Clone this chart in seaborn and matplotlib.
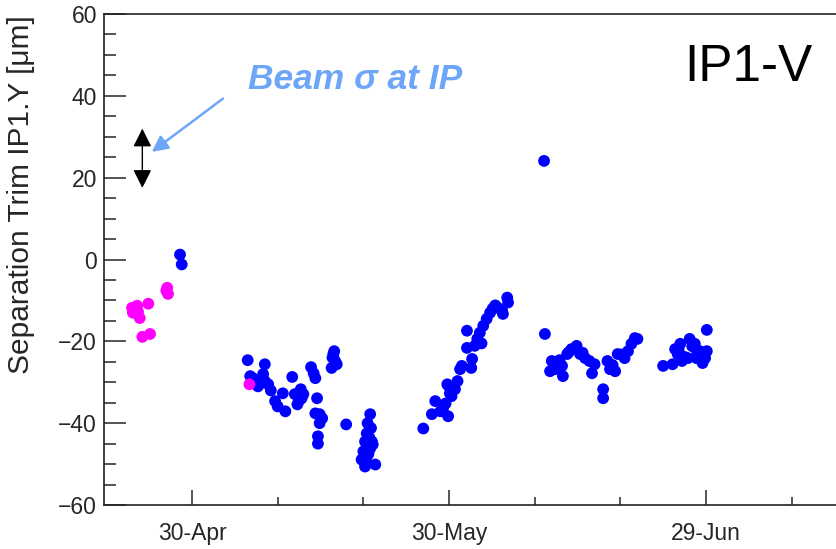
import pandas as pd
import matplotlib
matplotlib.use("Agg")
import matplotlib.pyplot as plt
import matplotlib.dates as mdates
from matplotlib.ticker import MultipleLocator
import seaborn as sns

# Days counted from 30-Apr, separation trim in um
base_date = pd.Timestamp("2012-04-30")

magenta_days = [-7.0, -6.4, -6.9, -6.3, -6.1, -5.1, -5.8, -4.9, -2.9, -2.8, 6.7,
                -6.6, -6.8, -3.0]
magenta_sep = [-11.8, -11.3, -13.0, -12.8, -14.3, -10.8, -18.9, -18.2, -6.9, -8.4, -30.5,
               -12.2, -12.5, -7.6]

blue_days = [-1.4, -1.2, 6.5, 8.5, 6.8, 7.1, 7.7, 8.3, 8.5, 8.9, 8.1, 9.7, 10.0, 10.9, 10.6,
             11.7, 12.0, 12.3, 12.7, 13.0, 12.8, 13.9, 14.2, 14.4, 14.6, 14.4, 14.9, 15.2, 14.9,
             14.7, 14.7, 16.5, 16.7, 16.3, 16.9, 18.0, 20.8, 20.5, 20.4, 20.2, 21.0, 21.1, 20.0,
             20.4, 21.4, 20.2, 19.8, 20.8, 27.0, 28.0, 28.4, 29.3, 29.9, 29.0, 29.8, 30.3, 30.7,
             30.1, 31.0, 31.3, 31.5, 32.7, 32.6, 32.1, 33.0, 33.3, 33.6, 32.1, 34.0, 34.4, 34.8,
             35.1, 35.7, 36.3, 36.2, 36.8, 36.9, 41.1, 41.2, 42.0, 41.8, 42.6, 43.2, 43.3, 43.8,
             44.3, 44.9, 45.3, 45.9, 46.4, 47.0, 46.7, 48.0, 48.0, 48.5, 48.8, 49.4, 49.7, 50.5,
             50.9, 51.3, 51.7, 52.0, 55.0, 56.1, 56.7, 57.0, 56.4, 57.2, 57.9, 58.1, 58.7, 59.3,
             58.9, 59.9, 60.1, 59.6, 60.1,
             16.6, 16.4, 20.6, 20.3, 20.7, 29.6, 30.0, 33.8, 35.4, 42.4, 42.9, 44.0, 45.6,
             49.1, 50.2, 56.8, 57.5, 58.4, 59.0, 59.7, 20.9, 12.5, 9.2]
blue_sep = [1.2, -1.2, -24.6, -25.6, -28.5, -29.0, -31.0, -28.0, -29.7, -30.5, -30.2, -34.6, -35.9,
            -37.1, -32.7, -28.7, -32.9, -35.4, -31.7, -32.9, -33.9, -26.3, -27.8, -29.0, -33.9,
            -37.6, -37.8, -38.8, -40.0, -43.2, -45.0, -23.1, -24.8, -26.5, -25.6, -40.3, -37.8,
            -40.0, -42.5, -44.5, -44.5, -45.2, -46.9, -48.2, -50.1, -50.6, -48.9, -46.2, -41.3,
            -37.8, -34.6, -36.4, -38.3, -37.1, -30.5, -33.4, -31.7, -32.7, -29.7, -26.8, -26.0,
            -24.3, -26.5, -21.6, -21.1, -19.4, -17.9, -17.4, -16.2, -14.5, -13.0, -12.0, -11.8,
            -13.3, -12.5, -9.3, -10.5, 24.1, -18.2, -24.8, -27.3, -25.6, -26.0, -28.5, -23.1,
            -21.9, -21.1, -23.1, -24.1, -24.8, -25.6, -27.8, -31.7, -33.9, -24.8, -26.8, -27.3,
            -23.1, -24.1, -22.4, -20.6, -19.2, -19.4, -26.0, -25.6, -23.1, -20.6, -21.9, -24.8,
            -24.1, -19.4, -20.6, -22.4, -24.1, -24.1, -22.4, -25.3, -17.2,
            -22.4, -24.0, -47.5, -49.5, -43.5, -35.2, -31.0, -20.5, -11.2, -26.8, -24.6,
            -22.6, -22.8, -25.8, -23.2, -22.0, -23.8, -21.2, -22.8, -23.4, -41.2, -34.5, -32.0]

major_dates = ["2012-04-30", "2012-05-30", "2012-06-29"]
minor_dates = ["2012-05-10", "2012-05-20", "2012-06-09", "2012-06-19", "2012-07-09"]


def to_dates(days):
    return base_date + pd.to_timedelta(days, unit="D")


blue_df = pd.DataFrame({"date": to_dates(blue_days), "sep": blue_sep})
magenta_df = pd.DataFrame({"date": to_dates(magenta_days), "sep": magenta_sep})

sns.set_style("ticks")
plt.rcParams["font.family"] = ["Liberation Sans", "DejaVu Sans"]

fig = plt.figure(figsize=(8.37, 5.49), dpi=100)
ax = fig.add_axes([0.1243, 0.0801, 0.8757, 0.8944])

sns.scatterplot(data=blue_df, x="date", y="sep", color="#0000ff", s=72,
                edgecolor="none", ax=ax, zorder=3)
sns.scatterplot(data=magenta_df, x="date", y="sep", color="#ff00ff", s=72,
                edgecolor="none", ax=ax, zorder=4)

ax.set_xlim(to_dates(-10.27), to_dates(75.3))
ax.set_ylim(-60, 60)

ax.set_xticks(pd.to_datetime(major_dates))
ax.set_xticks(pd.to_datetime(minor_dates), minor=True)
ax.xaxis.set_major_formatter(mdates.DateFormatter("%d-%b"))
ax.yaxis.set_major_locator(MultipleLocator(20))
ax.yaxis.set_minor_locator(MultipleLocator(5))

ax.tick_params(axis="x", which="major", direction="in", length=11, width=1.1,
               labelsize=16.5, pad=12)
ax.tick_params(axis="x", which="minor", direction="in", length=5.5, width=1.1)
ax.tick_params(axis="y", which="major", direction="in", length=16, width=1.1,
               labelsize=16.5, pad=5)
ax.tick_params(axis="y", which="minor", direction="in", length=8.5, width=1.1)

for side in ["left", "bottom", "top"]:
    ax.spines[side].set_linewidth(1.2)
    ax.spines[side].set_color("#222222")
ax.spines["right"].set_visible(False)

ax.set_xlabel("")
ax.set_ylabel("Separation Trim IP1.Y [\u03bcm]", fontsize=21.5, loc="top")
ax.yaxis.set_label_coords(-0.094, 0.998)

# beam size indicator
ax.annotate("", xy=(to_dates(-5.8), 17.5), xytext=(to_dates(-5.8), 32.0),
            arrowprops=dict(arrowstyle="<|-|>", color="black", lw=1.0,
                            mutation_scale=28, shrinkA=0, shrinkB=0))
ax.annotate("", xy=(to_dates(-4.7), 26.3), xytext=(to_dates(3.6), 39.3),
            arrowprops=dict(arrowstyle="-|>", color="#6ea6f7", lw=1.8,
                            mutation_scale=24, shrinkA=0, shrinkB=0))
ax.text(to_dates(6.5), 44.0, "Beam \u03c3 at IP", color="#6ea6f7", fontsize=25.5,
        fontweight="bold", fontstyle="italic", ha="left", va="center")
ax.text(to_dates(57.5), 47.0, "IP1-V", color="black", fontsize=37,
        ha="left", va="center")

fig.savefig("out.png", dpi=100)
